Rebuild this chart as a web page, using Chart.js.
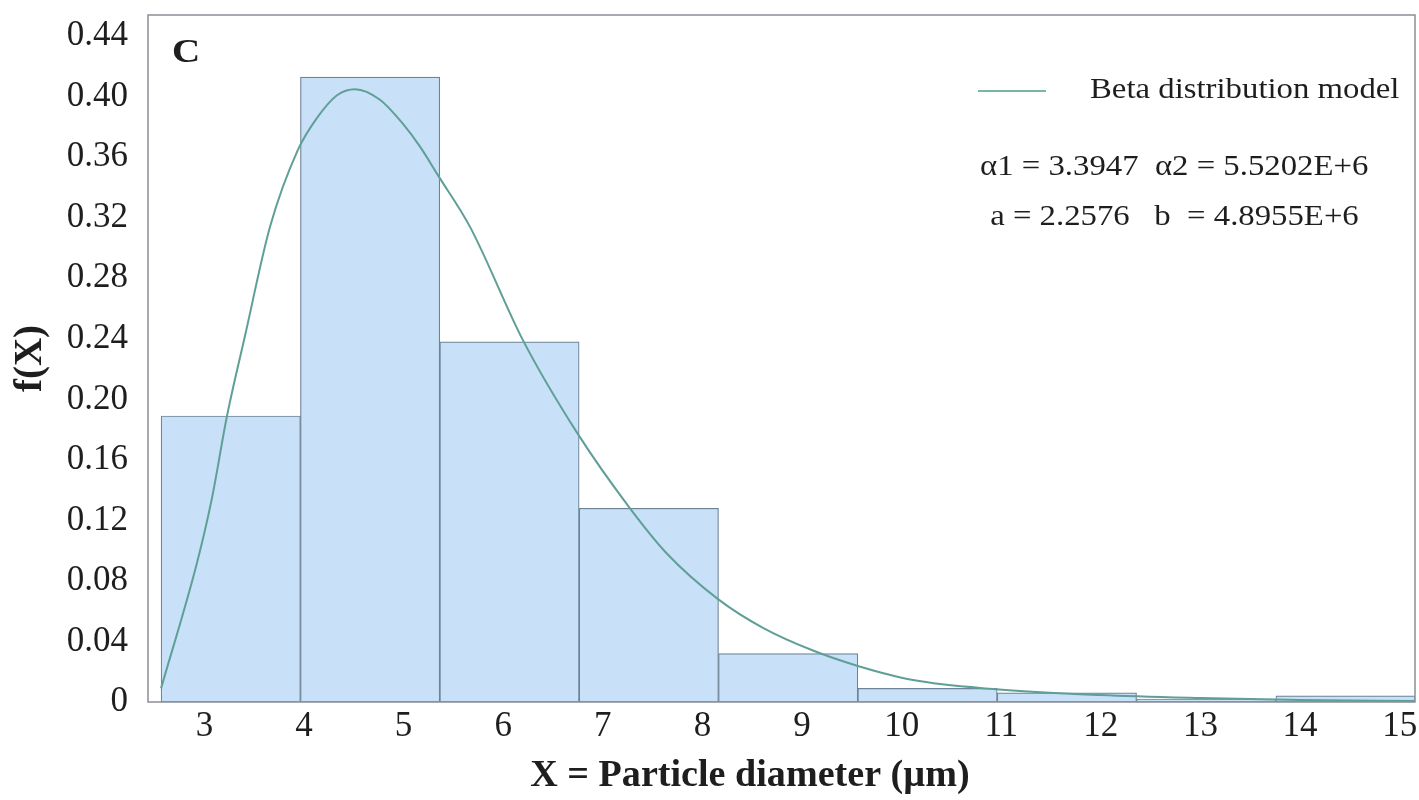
<!DOCTYPE html>
<html>
<head>
<meta charset="utf-8">
<title>Particle diameter - beta distribution fit</title>
<script src="https://cdn.jsdelivr.net/npm/chart.js@4.4.1/dist/chart.umd.min.js"></script>
<style>
  html, body { margin: 0; padding: 0; background: #fff; }
</style>
</head>
<body>
<canvas id="chart" width="1419" height="800"></canvas>
<script>
// histogram: bin centres (µm) and relative frequency f(X)
const binCenters = [3.265, 4.664, 6.063, 7.462, 8.861, 10.26, 11.659, 13.058, 14.457];
const binFreq = [0.189, 0.413, 0.238, 0.128, 0.032, 0.009, 0.006, 0.002, 0.004];

// beta distribution model
const curveX = [2.565, 2.926, 3.077, 3.227, 3.408, 3.659, 3.94, 4.131, 4.332, 4.513, 4.763, 4.994,
                5.165, 5.346, 5.667, 6.199, 6.741, 7.273, 7.645, 8.157, 8.608, 9.11, 9.552, 10.114,
                10.917, 11.992, 12.996, 13.999, 15.154];
const curveY = [0.009, 0.092, 0.135, 0.189, 0.242, 0.314, 0.365, 0.386, 0.401, 0.405, 0.398, 0.382,
                0.367, 0.348, 0.314, 0.239, 0.178, 0.128, 0.098, 0.068, 0.049, 0.034, 0.024, 0.0145,
                0.0086, 0.0046, 0.0026, 0.0013, 0.0007];

const legendLabel = 'Beta distribution model';
const paramLines = ['\u03b11 = 3.3947  \u03b12 = 5.5202E+6', ' a = 2.2576   b  = 4.8955E+6'];
const panelLetter = 'C';
const xTitle = 'X = Particle diameter (\u00b5m)';

const serif = 'Liberation Serif';
const textColor = '#1e1e1e';
const curveColor = '#5f9f96';

// the source figure is a little stretched sideways, so text is widened to match
function wideText(ctx, text, x, y, sx) {
    ctx.save();
    ctx.translate(x, y);
    ctx.scale(sx, 1);
    ctx.fillText(text, 0, 0);
    ctx.restore();
}

// frame, panel letter, legend, parameter text and x title
const overlay = {
    id: 'overlay',
    afterDraw(chart) {
        const ctx = chart.ctx;
        const a = chart.chartArea;
        ctx.save();
        ctx.strokeStyle = '#8a8f96';
        ctx.lineWidth = 1.5;
        ctx.strokeRect(a.left, a.top, a.right - a.left, a.bottom - a.top);

        ctx.fillStyle = textColor;
        ctx.textBaseline = 'middle';
        ctx.textAlign = 'left';
        ctx.font = 'bold 34px "' + serif + '"';
        wideText(ctx, panelLetter, a.left + 24, a.top + 38, 1.15);

        ctx.strokeStyle = '#78b6a8';
        ctx.lineWidth = 2;
        ctx.beginPath();
        ctx.moveTo(978, 91);
        ctx.lineTo(1046, 91);
        ctx.stroke();

        ctx.font = '29px "' + serif + '"';
        wideText(ctx, legendLabel, 1090, 90, 1.13);
        wideText(ctx, paramLines[0], 980, 167, 1.13);
        wideText(ctx, paramLines[1], 982, 217, 1.13);

        ctx.textAlign = 'center';
        ctx.font = 'bold 37px "' + serif + '"';
        wideText(ctx, xTitle, 750, 776, 1.03);
        ctx.restore();
    }
};

const ctx = document.getElementById('chart').getContext('2d');
new Chart(ctx, {
    type: 'bar',
    data: {
        datasets: [{
            type: 'line',
            label: legendLabel,
            data: curveX.map((x, i) => ({ x: x, y: curveY[i] })),
            borderColor: curveColor,
            borderWidth: 2,
            pointRadius: 0,
            fill: false,
            cubicInterpolationMode: 'monotone',
            order: 0
        }, {
            label: 'f(X)',
            data: binCenters.map((x, i) => ({ x: x, y: binFreq[i] })),
            backgroundColor: '#c8e1f8',
            borderColor: '#6f8396',
            borderWidth: 1.2,
            borderSkipped: false,
            barThickness: 'flex',
            barPercentage: 1,
            categoryPercentage: 1,
            order: 1
        }]
    },
    options: {
        responsive: false,
        animation: false,
        layout: { padding: { left: 0, top: 15, right: 4, bottom: 0 } },
        plugins: {
            legend: { display: false },
            tooltip: { enabled: false }
        },
        scales: {
            x: {
                type: 'linear',
                min: 2.434,
                max: 15.154,
                offset: false,
                grid: { display: false, drawTicks: false },
                border: { display: false },
                ticks: {
                    stepSize: 1,
                    includeBounds: false,
                    maxRotation: 0,
                    autoSkip: false,
                    padding: 4,
                    color: textColor,
                    font: { family: serif, size: 35 }
                },
                title: { display: false },
                afterFit(scale) {
                    scale.height = 98;
                    scale.paddingLeft = 0;
                    scale.paddingRight = 0;
                }
            },
            y: {
                min: 0,
                max: 0.454,
                grid: { display: false, drawTicks: false },
                border: { display: false },
                ticks: {
                    stepSize: 0.04,
                    includeBounds: false,
                    padding: 20,
                    color: textColor,
                    font: { family: serif, size: 35 },
                    callback: (v) => v === 0 ? '0' : v.toFixed(2)
                },
                title: {
                    display: true,
                    text: 'f(X)',
                    color: textColor,
                    font: { family: serif, size: 39, weight: 'bold' },
                    padding: { top: 8, bottom: 0 }
                },
                afterFit(scale) {
                    scale.width = 148;
                    scale.paddingTop = 0;
                    scale.paddingBottom = 0;
                }
            }
        }
    },
    plugins: [overlay]
});
</script>
</body>
</html>
